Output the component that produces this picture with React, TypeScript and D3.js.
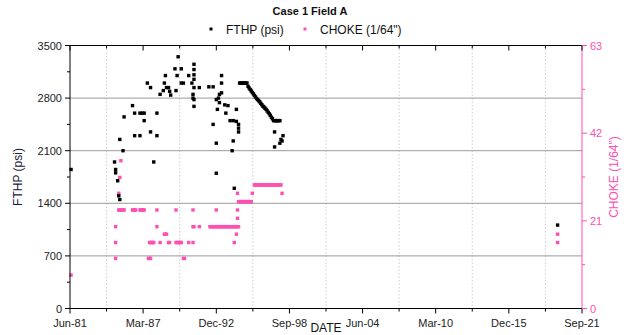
import React from "react";
import * as d3 from "d3";

const W = 629;
const H = 335;
const TITLE = "Case 1 Field A";
const X_LABEL = "DATE";
const Y_LABEL = "FTHP (psi)";
const Y2_LABEL = 'CHOKE (1/64")';
const SERIES_NAMES = ["FTHP (psi)", 'CHOKE (1/64")'];

const X_TICK_DATES = ["1981-06", "1987-03", "1992-12", "1998-09", "2004-06", "2010-03", "2015-12", "2021-09"];
const X_TICK_LABELS = ["Jun-81", "Mar-87", "Dec-92", "Sep-98", "Jun-04", "Mar-10", "Dec-15", "Sep-21"];
const FTHP_TICKS = [0, 700, 1400, 2100, 2800, 3500];
const CHOKE_TICKS = [0, 21, 42, 63];

// FTHP readings [month, psi]
const fthpPoints: [string, number][] = [
  ["1981-07", 1850],
  ["1984-12", 1950], ["1985-01", 1850], ["1985-01", 1805], ["1985-03", 1700], ["1985-04", 1500], ["1985-05", 1450],
  ["1985-05", 2250], ["1985-08", 2100], ["1985-09", 2550],
  ["1986-05", 2700], ["1986-07", 2600], ["1986-12", 2600], ["1987-02", 2600], ["1987-04", 2600],
  ["1986-07", 2300], ["1986-12", 2300], ["1987-04", 2500],
  ["1987-07", 3000], ["1987-10", 2940], ["1987-10", 2350], ["1988-01", 1950], ["1988-04", 2600], ["1988-04", 2300],
  ["1988-07", 2850], ["1988-10", 2900], ["1988-11", 3000], ["1988-12", 3100],
  ["1989-01", 2940], ["1989-03", 2940], ["1989-04", 2890], ["1989-05", 2840], ["1989-09", 3190], ["1989-10", 2900],
  ["1989-11", 3100], ["1989-12", 3350],
  ["1990-03", 3190], ["1990-03", 3000], ["1990-05", 3000], ["1990-10", 3100],
  ["1991-03", 3250], ["1991-03", 3180], ["1991-03", 3110], ["1991-03", 3050], ["1991-03", 2940], ["1991-01", 3000],
  ["1991-02", 2850], ["1991-02", 2800], ["1991-03", 2780], ["1991-03", 2690], ["1991-08", 2940],
  ["1992-05", 2950], ["1992-09", 2950], ["1992-12", 2200], ["1992-12", 1800], ["1993-01", 2650], ["1992-09", 2450],
  ["1993-05", 3100], ["1993-05", 3000], ["1993-05", 2870], ["1993-03", 2850], ["1993-02", 2800], ["1992-12", 2780],
  ["1993-03", 2740], ["1993-08", 2710], ["1993-11", 2700], ["1993-09", 2600],
  ["1994-07", 2650], ["1994-01", 2500], ["1994-04", 2500], ["1994-07", 2490], ["1994-09", 2450], ["1994-09", 2400],
  ["1994-09", 2350], ["1994-04", 2230], ["1994-03", 2100], ["1994-05", 1600],
  ["1994-10", 3000], ["1994-11", 3000], ["1994-12", 3000], ["1995-01", 3000], ["1995-02", 3000], ["1995-03", 3000],
  ["1995-04", 3000], ["1995-05", 3000],
  ["1995-06", 2957], ["1995-07", 2935], ["1995-08", 2914], ["1995-09", 2895], ["1995-10", 2875], ["1995-11", 2856],
  ["1995-12", 2835], ["1996-01", 2815], ["1996-02", 2794], ["1996-03", 2780], ["1996-04", 2765], ["1996-05", 2750],
  ["1996-06", 2730], ["1996-07", 2712], ["1996-08", 2692], ["1996-09", 2680], ["1996-10", 2665], ["1996-11", 2650],
  ["1996-12", 2630], ["1997-01", 2610], ["1997-02", 2590], ["1997-03", 2570], ["1997-04", 2545], ["1997-05", 2525],
  ["1997-06", 2500], ["1997-07", 2500], ["1997-08", 2500], ["1997-09", 2500], ["1997-10", 2500], ["1997-11", 2500],
  ["1997-12", 2500],
  ["1997-07", 2350], ["1997-07", 2150], ["1997-12", 2200], ["1998-01", 2250], ["1998-02", 2230], ["1998-03", 2300],
  ["2019-10", 1110],
];

// CHOKE readings [month, 1/64"]
const chokePoints: [string, number][] = [
  ["1981-07", 8],
  ["1985-01", 12], ["1985-01", 15.8], ["1985-01", 19.6], ["1985-04", 27.6], ["1985-05", 31.4], ["1985-06", 35.4],
  ["1985-04", 23.6], ["1985-05", 23.6], ["1985-06", 23.6], ["1985-07", 23.6], ["1985-08", 23.6], ["1985-09", 23.6],
  ["1986-05", 23.6], ["1986-06", 23.6], ["1986-07", 23.6], ["1986-08", 23.6],
  ["1986-12", 23.6], ["1987-01", 23.6], ["1987-02", 23.6], ["1987-03", 23.6], ["1987-04", 23.6],
  ["1988-04", 23.6], ["1989-10", 23.6], ["1991-02", 23.6], ["1992-12", 23.6], ["1994-08", 23.6],
  ["1988-04", 19.6], ["1991-02", 19.6], ["1991-03", 19.6], ["1991-08", 19.6],
  ["1992-06", 19.6], ["1992-07", 19.6], ["1992-08", 19.6], ["1992-09", 19.6], ["1992-10", 19.6], ["1992-11", 19.6],
  ["1992-12", 19.6], ["1993-01", 19.6], ["1993-02", 19.6], ["1993-03", 19.6], ["1993-04", 19.6], ["1993-05", 19.6],
  ["1993-06", 19.6], ["1993-07", 19.6], ["1993-08", 19.6], ["1993-09", 19.6], ["1993-10", 19.6], ["1993-11", 19.6],
  ["1993-12", 19.6], ["1994-01", 19.6], ["1994-02", 19.6], ["1994-03", 19.6], ["1994-04", 19.6], ["1994-05", 19.6],
  ["1994-06", 19.6], ["1994-07", 19.6], ["1994-08", 19.6], ["1994-09", 19.6],
  ["1988-11", 17.8], ["1988-12", 17.8], ["1989-01", 17.8], ["1994-07", 17.8],
  ["1987-09", 15.8], ["1987-10", 15.8], ["1987-11", 15.8], ["1987-12", 15.8], ["1988-01", 15.8], ["1988-07", 15.8],
  ["1989-03", 15.8], ["1989-04", 15.8], ["1989-10", 15.8], ["1989-11", 15.8], ["1989-12", 15.8], ["1990-01", 15.8],
  ["1990-02", 15.8], ["1990-03", 15.8], ["1990-10", 15.8], ["1991-02", 15.8], ["1994-05", 15.8],
  ["1987-08", 12], ["1987-09", 12], ["1987-10", 12], ["1990-05", 12], ["1990-06", 12],
  ["1994-08", 21.6],
  ["1994-09", 25.6], ["1994-10", 25.6], ["1994-11", 25.6], ["1994-12", 25.6], ["1995-01", 25.6], ["1995-02", 25.6],
  ["1995-03", 25.6], ["1995-04", 25.6], ["1995-05", 25.6], ["1995-06", 25.6], ["1995-07", 25.6], ["1995-08", 25.6],
  ["1995-09", 25.6],
  ["1994-08", 27.6], ["1995-10", 27.6], ["1998-02", 27.6],
  ["1995-12", 29.6], ["1996-01", 29.6], ["1996-02", 29.6], ["1996-03", 29.6], ["1996-04", 29.6], ["1996-05", 29.6],
  ["1996-06", 29.6], ["1996-07", 29.6], ["1996-08", 29.6], ["1996-09", 29.6], ["1996-10", 29.6], ["1996-11", 29.6],
  ["1996-12", 29.6], ["1997-01", 29.6], ["1997-02", 29.6], ["1997-03", 29.6], ["1997-04", 29.6], ["1997-05", 29.6],
  ["1997-06", 29.6], ["1997-07", 29.6], ["1997-08", 29.6], ["1997-09", 29.6], ["1997-10", 29.6], ["1997-11", 29.6],
  ["1997-12", 29.6], ["1998-01", 29.6],
  ["2019-10", 17.8], ["2019-10", 15.8],
];

const PINK = "#ff4fb0";
const FONT = "'Liberation Sans', Arial, Helvetica, sans-serif";

const parse = (s: string) => {
  const [yy, mm] = s.split("-").map(Number);
  return new Date(yy, mm - 1, 1);
};

export default function App() {
  const left = 70, right = 582, top = 45.5, bottom = 308.5;
  const x = d3.scaleTime()
    .domain([parse(X_TICK_DATES[0]), parse(X_TICK_DATES[X_TICK_DATES.length - 1])])
    .range([left, right]);
  const y = d3.scaleLinear().domain([0, 3500]).range([bottom, top]);
  const y2 = d3.scaleLinear().domain([0, 63]).range([bottom, top]);

  const majorX = X_TICK_DATES.map((d) => x(parse(d)));
  const minorX = majorX.slice(1).map((v, i) => (v + majorX[i]) / 2);
  const minorY = FTHP_TICKS.slice(1).map((v, i) => y((v + FTHP_TICKS[i]) / 2));
  const minorY2 = CHOKE_TICKS.slice(1).map((v, i) => y2((v + CHOKE_TICKS[i]) / 2));
  const ms = 3.4;
  const cy = (top + bottom) / 2;

  return (
    <svg width={W} height={H} style={{ position: "absolute", left: 0, top: 0, background: "#fff" }} fontFamily={FONT}>
      <rect x={0} y={0} width={W} height={H} fill="#fff" />
      {/* gridlines */}
      {minorX.map((v, i) => (
        <line key={"gx" + i} x1={v} x2={v} y1={top} y2={bottom} stroke="#cfcfcf" strokeWidth={1} strokeDasharray="1.5,2" />
      ))}
      {FTHP_TICKS.slice(1, -1).map((t) => (
        <line key={"gy" + t} x1={left} x2={right} y1={y(t)} y2={y(t)} stroke="#9a9a9a" strokeWidth={1} />
      ))}

      {/* data */}
      {chokePoints.map(([d, v], i) => (
        <rect key={"c" + i} x={x(parse(d)) - ms / 2} y={y2(v) - ms / 2} width={ms} height={ms} fill={PINK} />
      ))}
      {fthpPoints.map(([d, v], i) => (
        <rect key={"f" + i} x={x(parse(d)) - ms / 2} y={y(v) - ms / 2} width={ms} height={ms} fill="#000" />
      ))}

      {/* frame / axes */}
      <line x1={left} x2={right} y1={top} y2={top} stroke="#000" />
      <line x1={left} x2={right} y1={bottom} y2={bottom} stroke="#000" />
      <line x1={left} x2={left} y1={top} y2={bottom} stroke="#000" />
      <line x1={right} x2={right} y1={top} y2={bottom} stroke={PINK} />

      {majorX.map((v, i) => (
        <g key={"mx" + i}>
          <line x1={v} x2={v} y1={bottom} y2={bottom + 5} stroke="#000" />
          <line x1={v} x2={v} y1={top} y2={top + 5} stroke="#000" />
          <text x={v} y={327} textAnchor="middle" fontSize={11} fill="#222">{X_TICK_LABELS[i]}</text>
        </g>
      ))}
      {minorX.map((v, i) => (
        <g key={"nx" + i}>
          <line x1={v} x2={v} y1={bottom} y2={bottom + 3} stroke="#000" />
          <line x1={v} x2={v} y1={top} y2={top + 3} stroke="#000" />
        </g>
      ))}

      {FTHP_TICKS.map((t) => (
        <g key={"ty" + t}>
          <line x1={left - 5} x2={left} y1={y(t)} y2={y(t)} stroke="#000" />
          <text x={left - 8} y={y(t) + 4} textAnchor="end" fontSize={11} fill="#222">{t}</text>
        </g>
      ))}
      {minorY.map((v, i) => (
        <line key={"ny" + i} x1={left - 3} x2={left} y1={v} y2={v} stroke="#000" />
      ))}

      {CHOKE_TICKS.map((t) => (
        <g key={"t2" + t}>
          <line x1={right} x2={right + 5} y1={y2(t)} y2={y2(t)} stroke={PINK} />
          <text x={right + 8} y={y2(t) + 4} textAnchor="start" fontSize={11} fill={PINK}>{t}</text>
        </g>
      ))}
      {minorY2.map((v, i) => (
        <line key={"n2" + i} x1={right} x2={right + 3} y1={v} y2={v} stroke={PINK} />
      ))}

      {/* labels */}
      <text x={310} y={15} textAnchor="middle" fontSize={11} fontWeight="bold" fill="#111">{TITLE}</text>
      <rect x={209.5} y={27.5} width={3} height={3} fill="#000" />
      <text x={226} y={33.5} fontSize={12} fill="#111">{SERIES_NAMES[0]}</text>
      <rect x={303.5} y={27.5} width={3} height={3} fill={PINK} />
      <text x={320} y={33.5} fontSize={12} fill="#111">{SERIES_NAMES[1]}</text>

      <text x={(left + right) / 2} y={331.5} textAnchor="middle" fontSize={12} fill="#111">{X_LABEL}</text>
      <text transform={`translate(22,${cy}) rotate(-90)`} textAnchor="middle" fontSize={12} fill="#1a1a3a">{Y_LABEL}</text>
      <text transform={`translate(618,${cy}) rotate(-90)`} textAnchor="middle" fontSize={12} fill={PINK}>{Y2_LABEL}</text>
    </svg>
  );
}
